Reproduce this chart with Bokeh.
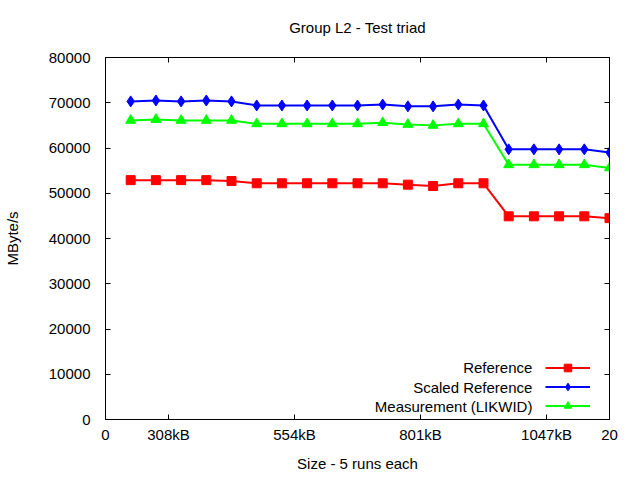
from bokeh.plotting import figure
from bokeh.models import FixedTicker, LinearAxis, Legend, LegendItem, Label, Range1d
from bokeh.core.properties import value
from bokeh.embed import file_html
from bokeh.resources import INLINE

# ---- data ----
sizes = [1, 2, 3, 4, 5, 6, 7, 8, 9, 10, 11, 12, 13, 14, 15, 16, 17, 18, 19, 20]
reference = [52900, 52900, 52900, 52900, 52700, 52200, 52200, 52200, 52200, 52200,
             52200, 51900, 51600, 52200, 52200, 44900, 44900, 44900, 44900, 44500]
scaled_reference = [70300, 70500, 70300, 70500, 70300, 69400, 69400, 69400, 69400, 69400,
                    69600, 69200, 69200, 69600, 69400, 59700, 59700, 59700, 59700, 59000]
measurement = [66100, 66300, 66100, 66100, 66100, 65350, 65350, 65350, 65350, 65350,
               65600, 65200, 65000, 65350, 65350, 56300, 56300, 56300, 56300, 55600]

x_tick_pos = [0, 2.5, 7.5, 12.5, 17.5, 20]
x_tick_labels = ["0", "308kB", "554kB", "801kB", "1047kB", "20"]
y_ticks = [0, 10000, 20000, 30000, 40000, 50000, 60000, 70000, 80000]

title_text = "Group L2 - Test triad"
series_names = ["Reference", "Scaled Reference", "Measurement (LIKWID)"]
series_values = [reference, scaled_reference, measurement]
series_colors = ["#ff0000", "#0000ff", "#00ff00"]
series_markers = ["square", "diamond", "triangle"]
series_sizes = [9, 11, 10]

FONT = "Liberation Sans"
FS = "15px"

p = figure(width=640, height=480, x_range=Range1d(0, 20), y_range=Range1d(0, 80000),
           output_backend="svg", toolbar_location=None,
           min_border_left=104, min_border_right=31, min_border_top=57, min_border_bottom=61)

p.xgrid.visible = False
p.ygrid.visible = False
p.outline_line_color = "black"
p.outline_line_width = 1
p.outline_line_alpha = 1

xo = {}
for t, l in zip(x_tick_pos, x_tick_labels):
    xo[t] = l

xa = p.xaxis[0]
xa.ticker = FixedTicker(ticks=x_tick_pos)
xa.major_label_overrides = xo
xa.axis_label = "Size - 5 runs each"
xa.major_label_standoff = 6
xa.axis_label_standoff = 9

ya = p.yaxis[0]
ya.ticker = FixedTicker(ticks=y_ticks)
ya.axis_label = "MByte/s"
ya.major_label_standoff = 15
ya.axis_label_standoff = 25

for ax in (xa, ya):
    ax.major_tick_in = 5
    ax.major_tick_out = 0
    ax.minor_tick_in = 0
    ax.minor_tick_out = 0
    ax.axis_line_color = "black"
    ax.major_tick_line_color = "black"
    ax.major_label_text_font = FONT
    ax.major_label_text_font_size = FS
    ax.major_label_text_color = "black"
    ax.axis_label_text_font = FONT
    ax.axis_label_text_font_size = FS
    ax.axis_label_text_font_style = "normal"
    ax.axis_label_text_color = "black"

# mirrored tick marks (gnuplot style) on the right and top, no tick labels;
# the top one carries the chart title as its label
for side, ticks, lab in (("right", y_ticks, None), ("above", x_tick_pos, title_text)):
    a = LinearAxis(ticker=FixedTicker(ticks=ticks), major_label_text_font_size="0px",
                   major_label_overrides={t: "" for t in ticks},
                   major_tick_in=5, major_tick_out=0, minor_tick_in=0, minor_tick_out=0,
                   major_label_standoff=0, axis_line_color="black",
                   axis_label=lab, axis_label_standoff=22,
                   axis_label_text_font=FONT, axis_label_text_font_size=FS,
                   axis_label_text_font_style="normal", axis_label_text_color="black")
    p.add_layout(a, side)

items = []
for name, vals, col, mk, sz in zip(series_names, series_values, series_colors, series_markers, series_sizes):
    rl = p.line(sizes, vals, line_color=col, line_width=2)
    rs = p.scatter(sizes, vals, marker=mk, size=sz, fill_color=col, line_color=col)
    items.append(LegendItem(label=value(""), renderers=[rl, rs]))

legend = Legend(items=items, location=(440, 4), glyph_width=45, glyph_height=19,
                label_height=19, label_width=0, spacing=0, padding=0, margin=0,
                border_line_color=None, background_fill_alpha=0, label_standoff=0,
                label_text_font_size="0px")
p.add_layout(legend)

legend_y = [11430, 7140, 2940]
for name, ly in zip(series_names, legend_y):
    p.add_layout(Label(x=16.94, y=ly, text=name, text_align="right", text_baseline="middle",
                       text_font=FONT, text_font_size=FS, text_color="black"))

open("out.html", "w").write(file_html(p, INLINE))
